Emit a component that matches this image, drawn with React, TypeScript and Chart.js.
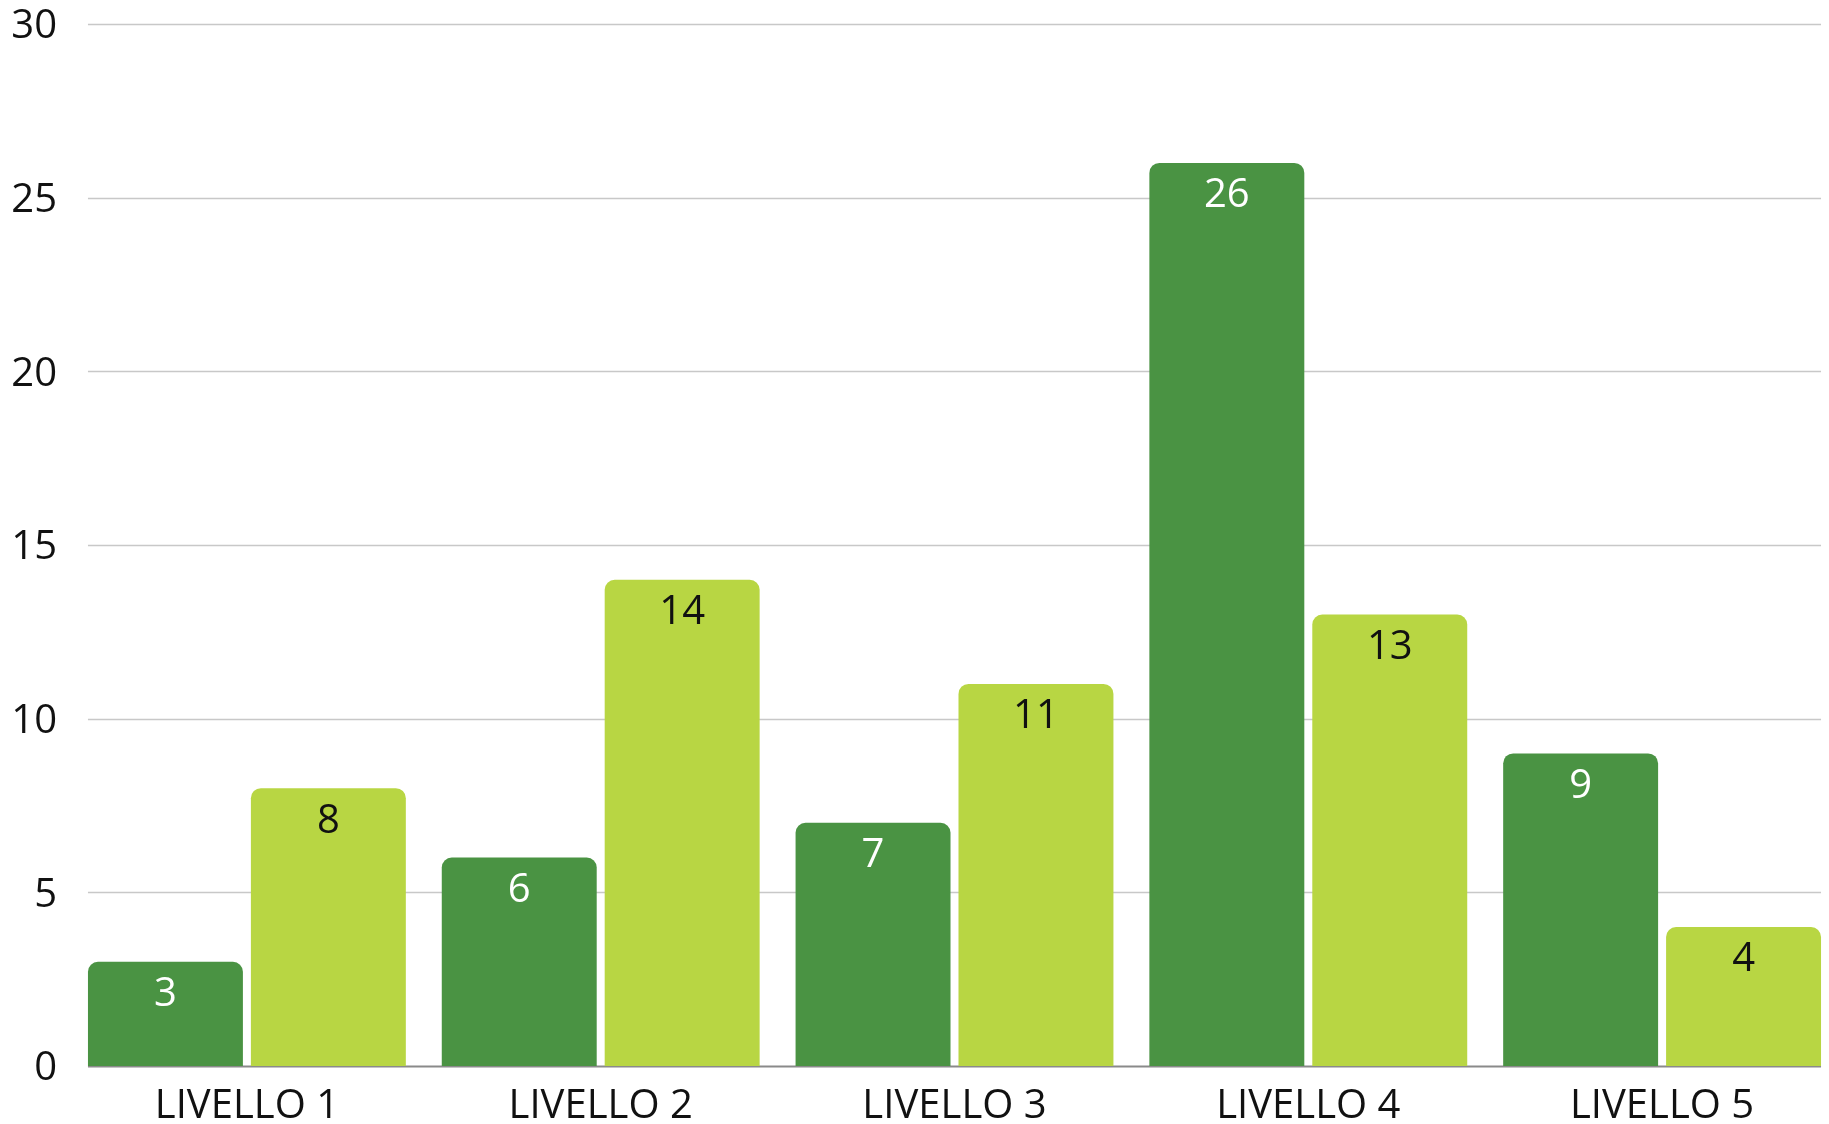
import React, { useEffect, useRef } from "react";
import { Chart, registerables } from "chart.js";

Chart.register(...registerables);

const categories = ["LIVELLO 1", "LIVELLO 2", "LIVELLO 3", "LIVELLO 4", "LIVELLO 5"];
const seriesDark = [3, 6, 7, 26, 9];
const seriesLight = [8, 14, 11, 13, 4];
const yTicks = [0, 5, 10, 15, 20, 25, 30];

const DARK = "#4a9343";
const LIGHT = "#b8d643";
const FONT = "'Open Sans', sans-serif";

const gridPlugin = {
  id: "customGrid",
  beforeDatasetsDraw(chart: any) {
    const ctx = chart.ctx;
    const y = chart.scales.y;
    const m0 = chart.getDatasetMeta(0).data;
    const m1 = chart.getDatasetMeta(1).data;
    const first = m0[0] as any;
    const last = m1[m1.length - 1] as any;
    const left = first.x - first.width / 2;
    const right = last.x + last.width / 2;
    ctx.save();
    yTicks.forEach((v) => {
      const py = Math.round(y.getPixelForValue(v)) + 0.5;
      ctx.beginPath();
      ctx.strokeStyle = v === 0 ? "#8a8a8a" : "#c8c8c8";
      ctx.lineWidth = v === 0 ? 2 : 1.5;
      ctx.moveTo(left, py);
      ctx.lineTo(right, py);
      ctx.stroke();
    });
    ctx.restore();
  },
};

const labelPlugin = {
  id: "barLabels",
  afterDatasetsDraw(chart: any) {
    const ctx = chart.ctx;
    ctx.save();
    ctx.font = `40px ${FONT}`;
    ctx.textAlign = "center";
    ctx.textBaseline = "middle";
    chart.data.datasets.forEach((ds: any, di: number) => {
      const meta = chart.getDatasetMeta(di);
      meta.data.forEach((bar: any, i: number) => {
        ctx.fillStyle = di === 0 ? "#ffffff" : "#111111";
        ctx.fillText(String(ds.data[i]), bar.x, bar.y + 33);
      });
    });
    ctx.restore();
  },
};

export default function App() {
  const ref = useRef<HTMLCanvasElement | null>(null);
  useEffect(() => {
    document.body.style.margin = "0";
    const chart = new Chart(ref.current as HTMLCanvasElement, {
      type: "bar",
      data: {
        labels: categories,
        datasets: [
          {
            data: seriesDark,
            backgroundColor: DARK,
            borderRadius: 10,
            borderSkipped: "start",
            categoryPercentage: 0.921,
            barPercentage: 0.951,
          },
          {
            data: seriesLight,
            backgroundColor: LIGHT,
            borderRadius: 10,
            borderSkipped: "start",
            categoryPercentage: 0.921,
            barPercentage: 0.951,
          },
        ],
      },
      options: {
        responsive: false,
        animation: false,
        layout: { padding: { top: 24, right: 11, left: 0, bottom: 0 } },
        plugins: { legend: { display: false }, tooltip: { enabled: false } },
        scales: {
          x: {
            offset: true,
            grid: { display: false, drawTicks: false },
            border: { display: false },
            ticks: {
              color: "#111111",
              font: { family: FONT, size: 40 },
              padding: 17,
              maxRotation: 0,
              autoSkip: false,
            },
            afterFit: (axis: any) => {
              axis.height = 58;
              axis.paddingLeft = 0;
              axis.paddingRight = 0;
            },
          },
          y: {
            min: 0,
            max: 30,
            grid: { display: false, drawTicks: false },
            border: { display: false },
            ticks: {
              stepSize: 5,
              color: "#111111",
              font: { family: FONT, size: 40 },
              padding: 13,
              labelOffset: 3,
            },
            afterFit: (axis: any) => {
              axis.width = 70;
              axis.paddingTop = 0;
              axis.paddingBottom = 0;
            },
          },
        },
      },
      plugins: [gridPlugin, labelPlugin],
    });
    return () => chart.destroy();
  }, []);
  return (
    <div style={{ position: "fixed", left: 0, top: 0, width: 1829, height: 1124, overflow: "hidden", background: "#fff" }}>
      <canvas ref={ref} width={1850} height={1124} style={{ display: "block" }} />
    </div>
  );
}
